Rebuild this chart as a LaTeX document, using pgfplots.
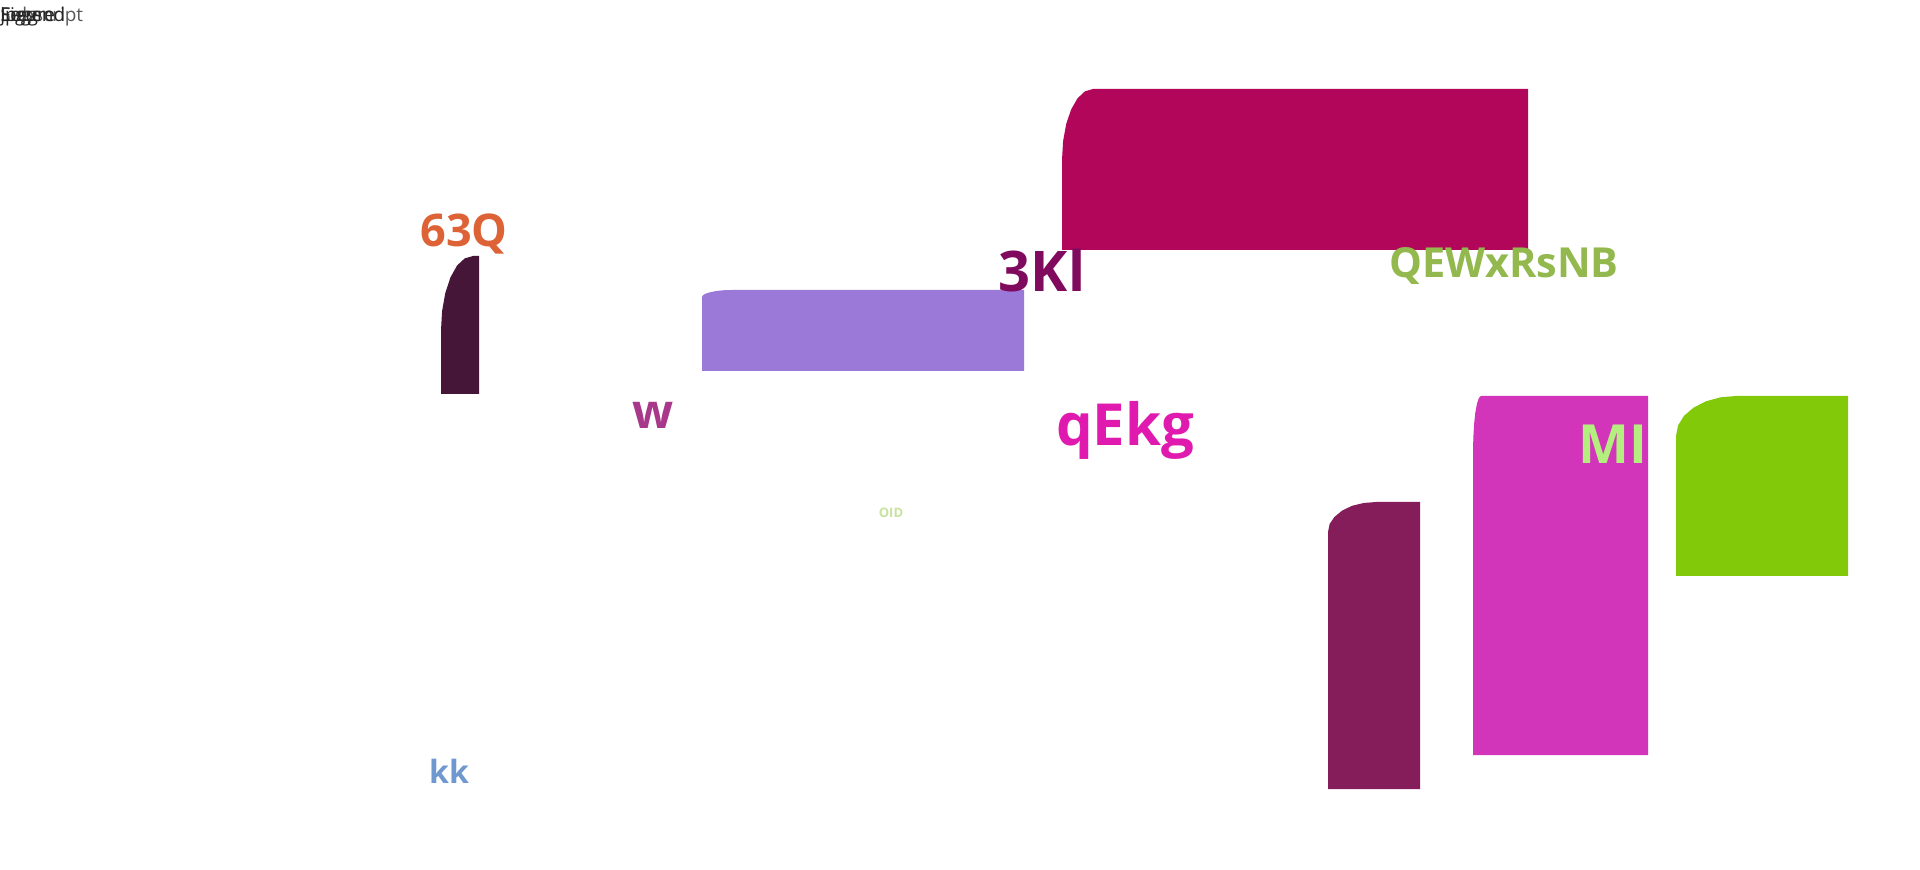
\documentclass[border=0pt]{standalone}
\usepackage{pgfplots}
\pgfplotsset{compat=1.18}
\usepackage{fontspec}
\setmainfont{Open Sans}
\definecolor{cA}{HTML}{451637}
\definecolor{cB}{HTML}{9B79D9}
\definecolor{cC}{HTML}{B1065A}
\definecolor{cD}{HTML}{841D5A}
\definecolor{cE}{HTML}{D335BA}
\definecolor{cF}{HTML}{82C90A}
\definecolor{t63}{HTML}{DD6236}
\definecolor{tw}{HTML}{A8388A}
\definecolor{t3k}{HTML}{800A5E}
\definecolor{tqe}{HTML}{93B84D}
\definecolor{tqk}{HTML}{E01AAE}
\definecolor{toid}{HTML}{C8E2A0}
\definecolor{tmi}{HTML}{B3EE7F}
\definecolor{tkk}{HTML}{7098D0}
\begin{document}
\begin{tikzpicture}
\begin{axis}[
  scale only axis, width=960pt, height=435pt,
  xmin=0, xmax=1920, ymin=0, ymax=870, y dir=reverse,
  hide axis, clip=false,
]
\addplot[fill=white, draw=none] coordinates {(0,0) (1920,0) (1920,870) (0,870)} -- cycle;
% shapes
\addplot[fill=cA, draw=none] coordinates {(441,330) (442.1,311) (445.3,293) (450.4,277.5) (457,265.6) (464.7,258.4) (473,256) (479,256) (479,394) (441,394)} -- cycle;
\addplot[fill=cB, draw=none] coordinates {(702,297) (703,295.2) (706,293.5) (710.8,292.1) (717,290.9) (724.2,290.2) (732,290) (1024,290) (1024,371) (702,371)} -- cycle;
\addplot[fill=cC, draw=none] coordinates {(1062,160) (1063.1,141) (1066.2,124) (1071.1,109.5) (1077.5,98.3) (1085,91.3) (1093,89) (1528,89) (1528,250) (1062,250)} -- cycle;
\addplot[fill=cD, draw=none] coordinates {(1328,532) (1329.6,524) (1334.4,517) (1342.1,510.6) (1352,505.8) (1363.6,503) (1376,502) (1420,502) (1420,789) (1328,789)} -- cycle;
\addplot[fill=cE, draw=none] coordinates {(1473,453) (1473.3,438) (1474.1,424) (1475.3,412.5) (1477,403.6) (1478.9,397.9) (1481,396) (1648,396) (1648,755) (1473,755)} -- cycle;
\addplot[fill=cF, draw=none] coordinates {(1676,436) (1678,425.5) (1684,415.8) (1693.6,407.6) (1706,401.3) (1720.5,397.3) (1736,396) (1848,396) (1848,576) (1676,576)} -- cycle;
% texts
\node[anchor=base, text=t63, font=\bfseries\fontsize{22.5}{24}\selectfont, inner sep=0pt] at (axis cs:464,247) {63Q};
\node[anchor=base, text=tw, font=\bfseries\fontsize{24}{26}\selectfont, inner sep=0pt] at (axis cs:653,429) {w};
\node[anchor=base, text=t3k, font=\bfseries\fontsize{28}{30}\selectfont, inner sep=0pt] at (axis cs:1042,292) {3Kl};
\node[anchor=base, text=tqe, font=\bfseries\fontsize{20.7}{22}\selectfont, inner sep=0pt] at (axis cs:1504,278) {QEWxRsNB};
\node[anchor=base, text=tqk, font=\bfseries\fontsize{29}{31}\selectfont, inner sep=0pt] at (axis cs:1125,446) {qEkg};
\node[anchor=base, text=tmi, font=\bfseries\fontsize{27}{29}\selectfont, inner sep=0pt] at (axis cs:1613,464) {MI};
\node[anchor=base, text=toid, font=\bfseries\fontsize{6.5}{7}\selectfont, inner sep=0pt] at (axis cs:891,518) {OID};
\node[anchor=base, text=tkk, font=\bfseries\fontsize{16}{18}\selectfont, inner sep=0pt] at (axis cs:449,783) {kk};
% top-left overlapping labels
\node[anchor=base west, text=black!65, font=\fontsize{9.5}{10}\selectfont, inner sep=0pt] at (axis cs:0,22) {Subscript};
\node[anchor=base west, text=black!85, font=\fontsize{9.5}{10}\selectfont, inner sep=0pt] at (axis cs:0,22) {Figure};
\node[anchor=base west, text=black!85, font=\fontsize{9.5}{10}\selectfont, inner sep=0pt] at (axis cs:0,22) {Legend};
\node[anchor=base west, text=black!85, font=\fontsize{9.5}{10}\selectfont, inner sep=0pt] at (axis cs:0,22) {jpeg};
\end{axis}
\end{tikzpicture}
\end{document}
